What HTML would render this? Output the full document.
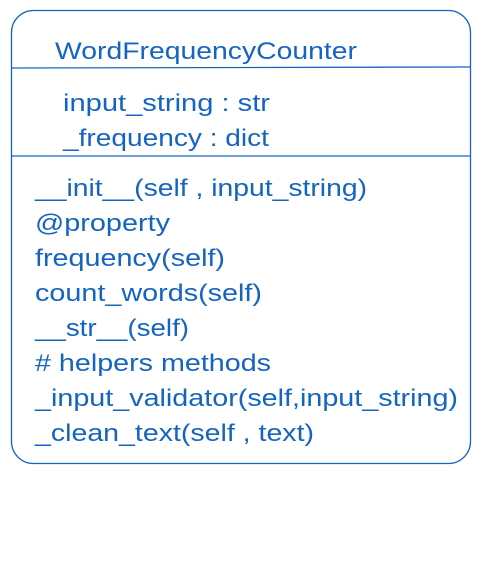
<!DOCTYPE html>
<html><head><meta charset="utf-8"><style>
html,body{margin:0;padding:0;background:#fff;}
svg{display:block;}
text{font-family:"Liberation Sans",sans-serif;font-size:24px;fill:#1565c0;}
</style></head><body>
<svg width="481" height="565" viewBox="0 0 481 565" xmlns="http://www.w3.org/2000/svg">
<rect x="11.5" y="10.5" width="459" height="453" rx="22" ry="22" fill="none" stroke="#1565c0" stroke-width="1.3"/>
<line x1="11" y1="68" x2="470" y2="67" stroke="#1565c0" stroke-width="1.3"/>
<line x1="11" y1="156" x2="470" y2="156" stroke="#1565c0" stroke-width="1.3"/>
<text x="55" y="59" textLength="302" lengthAdjust="spacingAndGlyphs">WordFrequencyCounter</text>
<text x="63" y="111" textLength="207" lengthAdjust="spacingAndGlyphs">input_string : str</text>
<text x="63" y="146" textLength="206" lengthAdjust="spacingAndGlyphs">_frequency : dict</text>
<text x="35" y="196" textLength="332" lengthAdjust="spacingAndGlyphs">__init__(self , input_string)</text>
<text x="35" y="231" textLength="135" lengthAdjust="spacingAndGlyphs">@property</text>
<text x="35" y="266" textLength="190" lengthAdjust="spacingAndGlyphs">frequency(self)</text>
<text x="35" y="301" textLength="227" lengthAdjust="spacingAndGlyphs">count_words(self)</text>
<text x="35" y="336" textLength="154" lengthAdjust="spacingAndGlyphs">__str__(self)</text>
<text x="35" y="371" textLength="236" lengthAdjust="spacingAndGlyphs"># helpers methods</text>
<text x="35" y="406" textLength="423" lengthAdjust="spacingAndGlyphs">_input_validator(self,input_string)</text>
<text x="35" y="441" textLength="279" lengthAdjust="spacingAndGlyphs">_clean_text(self , text)</text>
</svg>
</body></html>
